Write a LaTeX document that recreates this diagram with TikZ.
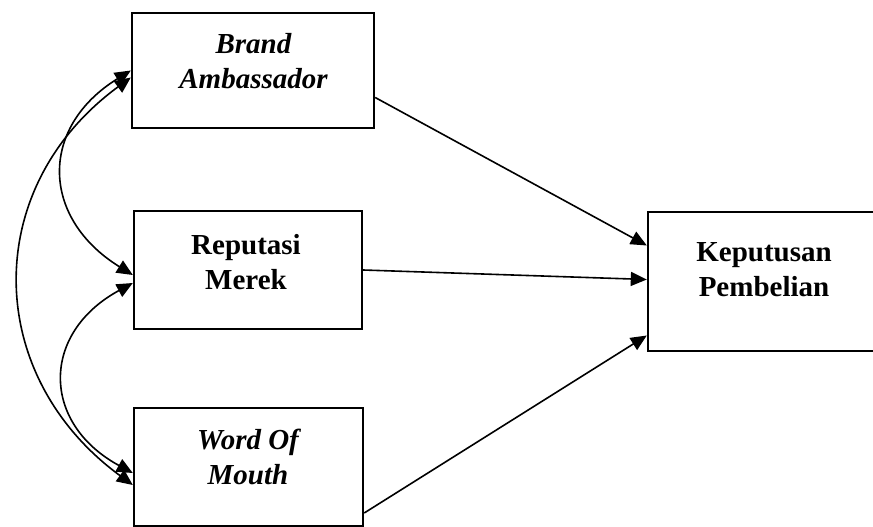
\documentclass[tikz,border=0pt]{standalone}
\usepackage{fontspec}
\setmainfont{Liberation Serif}
\usetikzlibrary{arrows.meta}

\begin{document}
\begin{tikzpicture}[x=1pt, y=-1pt,
  varbox/.style={rectangle, draw, line width=2.4pt, inner sep=0pt},
  vartext/.style={align=center, inner sep=0pt, font=\fontsize{29}{35}\selectfont\bfseries},
  arr/.style={-{Triangle[length=16pt,width=14pt]}, line width=1.6pt},
  corr/.style={{Triangle[length=16pt,width=14pt]}-{Triangle[length=16pt,width=14pt]}, line width=1.6pt}
]
\useasboundingbox (0,0) rectangle (873,527);

\node[varbox, minimum width=242pt, minimum height=115pt] (ba) at (253,70.5) {};
\node[varbox, minimum width=228pt, minimum height=118pt] (rm) at (248,270) {};
\node[varbox, minimum width=229pt, minimum height=118pt] (wom) at (248.5,467) {};
\node[varbox, minimum width=226pt, minimum height=139pt] (kp) at (761,281.5) {};

\node[vartext, font=\fontsize{29}{35}\selectfont\bfseries\itshape] (batxt) at (253.5,61) {Brand\\Ambassador};
\node[vartext] (rmtxt) at (246,262) {Reputasi\\Merek};
\node[vartext, font=\fontsize{29}{35}\selectfont\bfseries\itshape] (womtxt) at (248,456.5) {Word Of\\Mouth};
\node[vartext] (kptxt) at (764,270) {Keputusan\\Pembelian};

\draw[arr] ([yshift=-27pt]ba.east) -- ([yshift=36pt]kp.west);
\draw[arr] (rm.east) -- ([yshift=2pt]kp.west);
\draw[arr] ([yshift=-46pt]wom.east) -- ([yshift=-54pt]kp.west);

\draw[corr] (ba.west) .. controls +(-92,57) and +(-92,-57) .. ([yshift=-5pt]rm.west);
\draw[corr] ([yshift=-13pt]rm.west) .. controls +(-92,50) and +(-92,-50) .. ([yshift=-6pt]wom.west);
\draw[corr] ([yshift=-7pt]ba.west) .. controls +(-150,110) and +(-150,-110) .. ([yshift=-18pt]wom.west);
\end{tikzpicture}
\end{document}
